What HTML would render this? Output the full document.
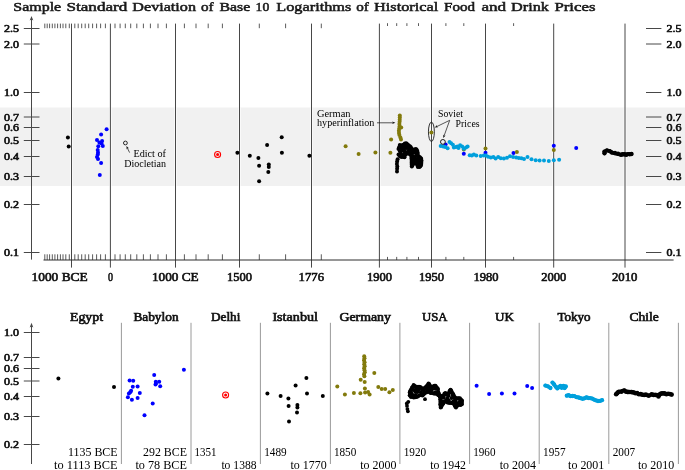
<!DOCTYPE html><html><head><meta charset="utf-8"><style>html,body{margin:0;padding:0;background:#fff;}svg{display:block;}text{filter:grayscale(1);}text{font-family:"Liberation Serif",serif;}.b{font-weight:normal;stroke:#111;stroke-width:0.62px;fill:#111;}</style></head><body>
<svg width="685" height="470" viewBox="0 0 685 470">
<rect x="0" y="107.5" width="685" height="78.5" fill="#f1f1f1"/>
<rect x="70.0" y="107.5" width="3.0" height="78.5" fill="#fff" opacity="0.6"/>
<rect x="108.9" y="107.5" width="3.0" height="78.5" fill="#fff" opacity="0.6"/>
<rect x="174.0" y="107.5" width="3.0" height="78.5" fill="#fff" opacity="0.6"/>
<rect x="238.0" y="107.5" width="3.0" height="78.5" fill="#fff" opacity="0.6"/>
<rect x="310.0" y="107.5" width="3.0" height="78.5" fill="#fff" opacity="0.6"/>
<rect x="377.9" y="107.5" width="3.0" height="78.5" fill="#fff" opacity="0.6"/>
<rect x="430.0" y="107.5" width="3.0" height="78.5" fill="#fff" opacity="0.6"/>
<rect x="484.0" y="107.5" width="3.0" height="78.5" fill="#fff" opacity="0.6"/>
<rect x="552.2" y="107.5" width="3.0" height="78.5" fill="#fff" opacity="0.6"/>
<rect x="623.5" y="107.5" width="3.0" height="78.5" fill="#fff" opacity="0.6"/>
<line x1="71.5" y1="23.6" x2="71.5" y2="267.6" stroke="#484848" stroke-width="1"/>
<line x1="110.4" y1="23.6" x2="110.4" y2="267.6" stroke="#484848" stroke-width="1"/>
<line x1="175.5" y1="23.6" x2="175.5" y2="267.6" stroke="#484848" stroke-width="1"/>
<line x1="239.5" y1="23.6" x2="239.5" y2="267.6" stroke="#484848" stroke-width="1"/>
<line x1="311.5" y1="23.6" x2="311.5" y2="267.6" stroke="#484848" stroke-width="1"/>
<line x1="379.4" y1="23.6" x2="379.4" y2="267.6" stroke="#484848" stroke-width="1"/>
<line x1="431.5" y1="23.6" x2="431.5" y2="267.6" stroke="#484848" stroke-width="1"/>
<line x1="485.5" y1="23.6" x2="485.5" y2="267.6" stroke="#484848" stroke-width="1"/>
<line x1="553.7" y1="23.6" x2="553.7" y2="267.6" stroke="#484848" stroke-width="1"/>
<line x1="625.0" y1="23.6" x2="625.0" y2="267.6" stroke="#484848" stroke-width="1"/>
<line x1="44.8" y1="23.6" x2="44.8" y2="28.2" stroke="#484848" stroke-width="0.9"/>
<line x1="44.8" y1="254.3" x2="44.8" y2="260" stroke="#484848" stroke-width="0.9"/>
<line x1="47.2" y1="23.6" x2="47.2" y2="28.2" stroke="#484848" stroke-width="0.9"/>
<line x1="47.2" y1="254.3" x2="47.2" y2="260" stroke="#484848" stroke-width="0.9"/>
<line x1="49.6" y1="23.6" x2="49.6" y2="28.2" stroke="#484848" stroke-width="0.9"/>
<line x1="49.6" y1="254.3" x2="49.6" y2="260" stroke="#484848" stroke-width="0.9"/>
<line x1="52.3" y1="23.6" x2="52.3" y2="28.2" stroke="#484848" stroke-width="0.9"/>
<line x1="52.3" y1="254.3" x2="52.3" y2="260" stroke="#484848" stroke-width="0.9"/>
<line x1="54.9" y1="23.6" x2="54.9" y2="28.2" stroke="#484848" stroke-width="0.9"/>
<line x1="54.9" y1="254.3" x2="54.9" y2="260" stroke="#484848" stroke-width="0.9"/>
<line x1="57.6" y1="23.6" x2="57.6" y2="28.2" stroke="#484848" stroke-width="0.9"/>
<line x1="57.6" y1="254.3" x2="57.6" y2="260" stroke="#484848" stroke-width="0.9"/>
<line x1="60.4" y1="23.6" x2="60.4" y2="28.2" stroke="#484848" stroke-width="0.9"/>
<line x1="60.4" y1="254.3" x2="60.4" y2="260" stroke="#484848" stroke-width="0.9"/>
<line x1="63" y1="23.6" x2="63" y2="28.2" stroke="#484848" stroke-width="0.9"/>
<line x1="63" y1="254.3" x2="63" y2="260" stroke="#484848" stroke-width="0.9"/>
<line x1="65.8" y1="23.6" x2="65.8" y2="28.2" stroke="#484848" stroke-width="0.9"/>
<line x1="65.8" y1="254.3" x2="65.8" y2="260" stroke="#484848" stroke-width="0.9"/>
<line x1="69.3" y1="23.6" x2="69.3" y2="28.2" stroke="#484848" stroke-width="0.9"/>
<line x1="69.3" y1="254.3" x2="69.3" y2="260" stroke="#484848" stroke-width="0.9"/>
<line x1="74.8" y1="23.6" x2="74.8" y2="28.2" stroke="#484848" stroke-width="0.9"/>
<line x1="74.8" y1="254.3" x2="74.8" y2="260" stroke="#484848" stroke-width="0.9"/>
<line x1="78.2" y1="23.6" x2="78.2" y2="28.2" stroke="#484848" stroke-width="0.9"/>
<line x1="78.2" y1="254.3" x2="78.2" y2="260" stroke="#484848" stroke-width="0.9"/>
<line x1="81.7" y1="23.6" x2="81.7" y2="28.2" stroke="#484848" stroke-width="0.9"/>
<line x1="81.7" y1="254.3" x2="81.7" y2="260" stroke="#484848" stroke-width="0.9"/>
<line x1="85.2" y1="23.6" x2="85.2" y2="28.2" stroke="#484848" stroke-width="0.9"/>
<line x1="85.2" y1="254.3" x2="85.2" y2="260" stroke="#484848" stroke-width="0.9"/>
<line x1="88.7" y1="23.6" x2="88.7" y2="28.2" stroke="#484848" stroke-width="0.9"/>
<line x1="88.7" y1="254.3" x2="88.7" y2="260" stroke="#484848" stroke-width="0.9"/>
<line x1="92.6" y1="23.6" x2="92.6" y2="28.2" stroke="#484848" stroke-width="0.9"/>
<line x1="92.6" y1="254.3" x2="92.6" y2="260" stroke="#484848" stroke-width="0.9"/>
<line x1="96.6" y1="23.6" x2="96.6" y2="28.2" stroke="#484848" stroke-width="0.9"/>
<line x1="96.6" y1="254.3" x2="96.6" y2="260" stroke="#484848" stroke-width="0.9"/>
<line x1="100.6" y1="23.6" x2="100.6" y2="28.2" stroke="#484848" stroke-width="0.9"/>
<line x1="100.6" y1="254.3" x2="100.6" y2="260" stroke="#484848" stroke-width="0.9"/>
<line x1="105.4" y1="23.6" x2="105.4" y2="28.2" stroke="#484848" stroke-width="0.9"/>
<line x1="105.4" y1="254.3" x2="105.4" y2="260" stroke="#484848" stroke-width="0.9"/>
<line x1="115" y1="23.6" x2="115" y2="28.2" stroke="#484848" stroke-width="0.9"/>
<line x1="115" y1="254.3" x2="115" y2="260" stroke="#484848" stroke-width="0.9"/>
<line x1="120.1" y1="23.6" x2="120.1" y2="28.2" stroke="#484848" stroke-width="0.9"/>
<line x1="120.1" y1="254.3" x2="120.1" y2="260" stroke="#484848" stroke-width="0.9"/>
<line x1="125.3" y1="23.6" x2="125.3" y2="28.2" stroke="#484848" stroke-width="0.9"/>
<line x1="125.3" y1="254.3" x2="125.3" y2="260" stroke="#484848" stroke-width="0.9"/>
<line x1="130.7" y1="23.6" x2="130.7" y2="28.2" stroke="#484848" stroke-width="0.9"/>
<line x1="130.7" y1="254.3" x2="130.7" y2="260" stroke="#484848" stroke-width="0.9"/>
<line x1="136.8" y1="23.6" x2="136.8" y2="28.2" stroke="#484848" stroke-width="0.9"/>
<line x1="136.8" y1="254.3" x2="136.8" y2="260" stroke="#484848" stroke-width="0.9"/>
<line x1="143.4" y1="23.6" x2="143.4" y2="28.2" stroke="#484848" stroke-width="0.9"/>
<line x1="143.4" y1="254.3" x2="143.4" y2="260" stroke="#484848" stroke-width="0.9"/>
<line x1="150.4" y1="23.6" x2="150.4" y2="28.2" stroke="#484848" stroke-width="0.9"/>
<line x1="150.4" y1="254.3" x2="150.4" y2="260" stroke="#484848" stroke-width="0.9"/>
<line x1="158" y1="23.6" x2="158" y2="28.2" stroke="#484848" stroke-width="0.9"/>
<line x1="158" y1="254.3" x2="158" y2="260" stroke="#484848" stroke-width="0.9"/>
<line x1="166.4" y1="23.6" x2="166.4" y2="28.2" stroke="#484848" stroke-width="0.9"/>
<line x1="166.4" y1="254.3" x2="166.4" y2="260" stroke="#484848" stroke-width="0.9"/>
<line x1="184.4" y1="23.6" x2="184.4" y2="28.2" stroke="#484848" stroke-width="0.9"/>
<line x1="184.4" y1="254.3" x2="184.4" y2="260" stroke="#484848" stroke-width="0.9"/>
<line x1="196" y1="23.6" x2="196" y2="28.2" stroke="#484848" stroke-width="0.9"/>
<line x1="196" y1="254.3" x2="196" y2="260" stroke="#484848" stroke-width="0.9"/>
<line x1="208.2" y1="23.6" x2="208.2" y2="28.2" stroke="#484848" stroke-width="0.9"/>
<line x1="208.2" y1="254.3" x2="208.2" y2="260" stroke="#484848" stroke-width="0.9"/>
<line x1="222.4" y1="23.6" x2="222.4" y2="28.2" stroke="#484848" stroke-width="0.9"/>
<line x1="222.4" y1="254.3" x2="222.4" y2="260" stroke="#484848" stroke-width="0.9"/>
<line x1="259.3" y1="23.6" x2="259.3" y2="28.2" stroke="#484848" stroke-width="0.9"/>
<line x1="259.3" y1="254.3" x2="259.3" y2="260" stroke="#484848" stroke-width="0.9"/>
<line x1="285.6" y1="23.6" x2="285.6" y2="28.2" stroke="#484848" stroke-width="0.9"/>
<line x1="285.6" y1="254.3" x2="285.6" y2="260" stroke="#484848" stroke-width="0.9"/>
<line x1="321.3" y1="23.6" x2="321.3" y2="28.2" stroke="#484848" stroke-width="0.9"/>
<line x1="321.3" y1="254.3" x2="321.3" y2="260" stroke="#484848" stroke-width="0.9"/>
<line x1="387.5" y1="23.2" x2="387.5" y2="26" stroke="#484848" stroke-width="0.9"/>
<line x1="387.5" y1="256.9" x2="387.5" y2="260" stroke="#484848" stroke-width="0.9"/>
<line x1="396.7" y1="23.2" x2="396.7" y2="26" stroke="#484848" stroke-width="0.9"/>
<line x1="396.7" y1="256.9" x2="396.7" y2="260" stroke="#484848" stroke-width="0.9"/>
<line x1="406.9" y1="23.2" x2="406.9" y2="26" stroke="#484848" stroke-width="0.9"/>
<line x1="406.9" y1="256.9" x2="406.9" y2="260" stroke="#484848" stroke-width="0.9"/>
<line x1="418.5" y1="23.2" x2="418.5" y2="26" stroke="#484848" stroke-width="0.9"/>
<line x1="418.5" y1="256.9" x2="418.5" y2="260" stroke="#484848" stroke-width="0.9"/>
<line x1="445.9" y1="23.2" x2="445.9" y2="26" stroke="#484848" stroke-width="0.9"/>
<line x1="445.9" y1="256.9" x2="445.9" y2="260" stroke="#484848" stroke-width="0.9"/>
<line x1="463.8" y1="23.2" x2="463.8" y2="26" stroke="#484848" stroke-width="0.9"/>
<line x1="463.8" y1="256.9" x2="463.8" y2="260" stroke="#484848" stroke-width="0.9"/>
<line x1="513.6" y1="23.2" x2="513.6" y2="26" stroke="#484848" stroke-width="0.9"/>
<line x1="513.6" y1="256.9" x2="513.6" y2="260" stroke="#484848" stroke-width="0.9"/>
<line x1="43.5" y1="260.0" x2="673.6" y2="260.0" stroke="#2e2e2e" stroke-width="1"/>
<line x1="31.5" y1="18.5" x2="31.5" y2="259.6" stroke="#484848" stroke-width="1"/>
<path d="M31.5 15.9 L29.7 20.6 L31.5 19.5 L33.3 20.6 Z" fill="#484848"/>
<line x1="23.8" y1="28.5" x2="39.5" y2="28.5" stroke="#484848" stroke-width="1"/>
<line x1="646" y1="28.5" x2="661.4" y2="28.5" stroke="#484848" stroke-width="1"/>
<text class="b" x="4" y="32.0" font-size="10.2" textLength="15" lengthAdjust="spacingAndGlyphs">2.5</text>
<text class="b" x="666.6" y="32.0" font-size="10.2" textLength="15" lengthAdjust="spacingAndGlyphs">2.5</text>
<line x1="23.8" y1="44.0" x2="39.5" y2="44.0" stroke="#484848" stroke-width="1"/>
<line x1="646" y1="44.0" x2="661.4" y2="44.0" stroke="#484848" stroke-width="1"/>
<text class="b" x="4" y="47.5" font-size="10.2" textLength="15" lengthAdjust="spacingAndGlyphs">2.0</text>
<text class="b" x="666.6" y="47.5" font-size="10.2" textLength="15" lengthAdjust="spacingAndGlyphs">2.0</text>
<line x1="23.8" y1="92.5" x2="39.5" y2="92.5" stroke="#484848" stroke-width="1"/>
<line x1="646" y1="92.5" x2="661.4" y2="92.5" stroke="#484848" stroke-width="1"/>
<text class="b" x="4" y="96.0" font-size="10.2" textLength="15" lengthAdjust="spacingAndGlyphs">1.0</text>
<text class="b" x="666.6" y="96.0" font-size="10.2" textLength="15" lengthAdjust="spacingAndGlyphs">1.0</text>
<line x1="23.8" y1="117.0" x2="39.5" y2="117.0" stroke="#484848" stroke-width="1"/>
<line x1="646" y1="117.0" x2="661.4" y2="117.0" stroke="#484848" stroke-width="1"/>
<text class="b" x="4" y="120.5" font-size="10.2" textLength="15" lengthAdjust="spacingAndGlyphs">0.7</text>
<text class="b" x="666.6" y="120.5" font-size="10.2" textLength="15" lengthAdjust="spacingAndGlyphs">0.7</text>
<line x1="23.8" y1="127.5" x2="39.5" y2="127.5" stroke="#484848" stroke-width="1"/>
<line x1="646" y1="127.5" x2="661.4" y2="127.5" stroke="#484848" stroke-width="1"/>
<text class="b" x="4" y="131.0" font-size="10.2" textLength="15" lengthAdjust="spacingAndGlyphs">0.6</text>
<text class="b" x="666.6" y="131.0" font-size="10.2" textLength="15" lengthAdjust="spacingAndGlyphs">0.6</text>
<line x1="23.8" y1="140.5" x2="39.5" y2="140.5" stroke="#484848" stroke-width="1"/>
<line x1="646" y1="140.5" x2="661.4" y2="140.5" stroke="#484848" stroke-width="1"/>
<text class="b" x="4" y="144.0" font-size="10.2" textLength="15" lengthAdjust="spacingAndGlyphs">0.5</text>
<text class="b" x="666.6" y="144.0" font-size="10.2" textLength="15" lengthAdjust="spacingAndGlyphs">0.5</text>
<line x1="23.8" y1="156.5" x2="39.5" y2="156.5" stroke="#484848" stroke-width="1"/>
<line x1="646" y1="156.5" x2="661.4" y2="156.5" stroke="#484848" stroke-width="1"/>
<text class="b" x="4" y="160.0" font-size="10.2" textLength="15" lengthAdjust="spacingAndGlyphs">0.4</text>
<text class="b" x="666.6" y="160.0" font-size="10.2" textLength="15" lengthAdjust="spacingAndGlyphs">0.4</text>
<line x1="23.8" y1="176.5" x2="39.5" y2="176.5" stroke="#484848" stroke-width="1"/>
<line x1="646" y1="176.5" x2="661.4" y2="176.5" stroke="#484848" stroke-width="1"/>
<text class="b" x="4" y="180.0" font-size="10.2" textLength="15" lengthAdjust="spacingAndGlyphs">0.3</text>
<text class="b" x="666.6" y="180.0" font-size="10.2" textLength="15" lengthAdjust="spacingAndGlyphs">0.3</text>
<line x1="23.8" y1="204.5" x2="39.5" y2="204.5" stroke="#484848" stroke-width="1"/>
<line x1="646" y1="204.5" x2="661.4" y2="204.5" stroke="#484848" stroke-width="1"/>
<text class="b" x="4" y="208.0" font-size="10.2" textLength="15" lengthAdjust="spacingAndGlyphs">0.2</text>
<text class="b" x="666.6" y="208.0" font-size="10.2" textLength="15" lengthAdjust="spacingAndGlyphs">0.2</text>
<line x1="23.8" y1="252.5" x2="39.5" y2="252.5" stroke="#484848" stroke-width="1"/>
<line x1="646" y1="252.5" x2="661.4" y2="252.5" stroke="#484848" stroke-width="1"/>
<text class="b" x="4" y="256.0" font-size="10.2" textLength="15" lengthAdjust="spacingAndGlyphs">0.1</text>
<text class="b" x="666.6" y="256.0" font-size="10.2" textLength="15" lengthAdjust="spacingAndGlyphs">0.1</text>
<text class="b" x="31.6" y="280.8" font-size="12.2" textLength="56.0" lengthAdjust="spacingAndGlyphs">1000 BCE</text>
<text class="b" x="108" y="280.8" font-size="12.2" textLength="5.0" lengthAdjust="spacingAndGlyphs">0</text>
<text class="b" x="152" y="280.8" font-size="12.2" textLength="46.6" lengthAdjust="spacingAndGlyphs">1000 CE</text>
<text class="b" x="227" y="280.8" font-size="12.2" textLength="25.0" lengthAdjust="spacingAndGlyphs">1500</text>
<text class="b" x="298.6" y="280.8" font-size="12.2" textLength="25.4" lengthAdjust="spacingAndGlyphs">1776</text>
<text class="b" x="367" y="280.8" font-size="12.2" textLength="25.0" lengthAdjust="spacingAndGlyphs">1900</text>
<text class="b" x="419" y="280.8" font-size="12.2" textLength="25.0" lengthAdjust="spacingAndGlyphs">1950</text>
<text class="b" x="473.4" y="280.8" font-size="12.2" textLength="25.0" lengthAdjust="spacingAndGlyphs">1980</text>
<text class="b" x="541.2" y="280.8" font-size="12.2" textLength="25.0" lengthAdjust="spacingAndGlyphs">2000</text>
<text class="b" x="612" y="280.8" font-size="12.2" textLength="25.4" lengthAdjust="spacingAndGlyphs">2010</text>
<text x="13.299999999999999" y="10.6" font-size="13.5" fill="#1a1a1a" stroke="#1a1a1a" stroke-width="0.55" textLength="47.9" lengthAdjust="spacingAndGlyphs">Sample</text>
<text x="66.5" y="10.6" font-size="13.5" fill="#1a1a1a" stroke="#1a1a1a" stroke-width="0.55" textLength="60.8" lengthAdjust="spacingAndGlyphs">Standard</text>
<text x="132.29999999999998" y="10.6" font-size="13.5" fill="#1a1a1a" stroke="#1a1a1a" stroke-width="0.55" textLength="63.7" lengthAdjust="spacingAndGlyphs">Deviation</text>
<text x="200.89999999999998" y="10.6" font-size="13.5" fill="#1a1a1a" stroke="#1a1a1a" stroke-width="0.55" textLength="12.6" lengthAdjust="spacingAndGlyphs">of</text>
<text x="219.5" y="10.6" font-size="13.5" fill="#1a1a1a" stroke="#1a1a1a" stroke-width="0.55" textLength="30.8" lengthAdjust="spacingAndGlyphs">Base</text>
<text x="255.6" y="10.6" font-size="13.5" fill="#1a1a1a" stroke="#1a1a1a" stroke-width="0.55" textLength="13.7" lengthAdjust="spacingAndGlyphs">10</text>
<text x="276.3" y="10.6" font-size="13.5" fill="#1a1a1a" stroke="#1a1a1a" stroke-width="0.55" textLength="75.0" lengthAdjust="spacingAndGlyphs">Logarithms</text>
<text x="356.2" y="10.6" font-size="13.5" fill="#1a1a1a" stroke="#1a1a1a" stroke-width="0.55" textLength="12.6" lengthAdjust="spacingAndGlyphs">of</text>
<text x="374.09999999999997" y="10.6" font-size="13.5" fill="#1a1a1a" stroke="#1a1a1a" stroke-width="0.55" textLength="64.1" lengthAdjust="spacingAndGlyphs">Historical</text>
<text x="444.09999999999997" y="10.6" font-size="13.5" fill="#1a1a1a" stroke="#1a1a1a" stroke-width="0.55" textLength="30.9" lengthAdjust="spacingAndGlyphs">Food</text>
<text x="481.4" y="10.6" font-size="13.5" fill="#1a1a1a" stroke="#1a1a1a" stroke-width="0.55" textLength="24.7" lengthAdjust="spacingAndGlyphs">and</text>
<text x="511.09999999999997" y="10.6" font-size="13.5" fill="#1a1a1a" stroke="#1a1a1a" stroke-width="0.55" textLength="37.8" lengthAdjust="spacingAndGlyphs">Drink</text>
<text x="554.4000000000001" y="10.6" font-size="13.5" fill="#1a1a1a" stroke="#1a1a1a" stroke-width="0.55" textLength="41.1" lengthAdjust="spacingAndGlyphs">Prices</text>
<circle cx="67.9" cy="137.6" r="2.0" fill="#000"/>
<circle cx="68.7" cy="146.6" r="2.0" fill="#000"/>
<circle cx="106.6" cy="129.2" r="2.0" fill="#0000ff"/>
<circle cx="101.1" cy="134.4" r="2.0" fill="#0000ff"/>
<circle cx="97" cy="140" r="2.0" fill="#0000ff"/>
<circle cx="102.1" cy="141.1" r="2.0" fill="#0000ff"/>
<circle cx="101.5" cy="143.6" r="2.0" fill="#0000ff"/>
<circle cx="102.8" cy="145.9" r="2.0" fill="#0000ff"/>
<circle cx="98.3" cy="146.2" r="2.0" fill="#0000ff"/>
<circle cx="97.7" cy="150" r="2.0" fill="#0000ff"/>
<circle cx="98" cy="152.6" r="2.0" fill="#0000ff"/>
<circle cx="97" cy="157" r="2.0" fill="#0000ff"/>
<circle cx="98" cy="159" r="2.0" fill="#0000ff"/>
<circle cx="101.1" cy="163" r="2.0" fill="#0000ff"/>
<circle cx="99.8" cy="174.9" r="2.0" fill="#0000ff"/>
<circle cx="99.4" cy="142.6" r="2.0" fill="#0000ff"/>
<circle cx="97.8" cy="154.6" r="2.0" fill="#0000ff"/>
<circle cx="125.4" cy="143" r="1.9" fill="none" stroke="#111" stroke-width="0.9"/>
<line x1="129.60" y1="152.60" x2="127.45" y2="148.16" stroke="#111" stroke-width="0.7"/>
<path d="M126.40 146.00 L128.92 148.33 L127.45 148.16 L126.67 149.42 Z" fill="#111"/>
<text x="133.4" y="156.5" font-size="10" textLength="32.6" lengthAdjust="spacingAndGlyphs">Edict of</text>
<text x="124.2" y="166.5" font-size="10" textLength="41.8" lengthAdjust="spacingAndGlyphs">Diocletian</text>
<circle cx="217.6" cy="154.5" r="3.0" fill="none" stroke="#ff0000" stroke-width="1.1"/>
<circle cx="217.6" cy="154.5" r="1.5" fill="#ff0000"/>
<circle cx="237.4" cy="152.8" r="2.0" fill="#000"/>
<circle cx="249.8" cy="155.7" r="2.0" fill="#000"/>
<circle cx="258.4" cy="158" r="2.0" fill="#000"/>
<circle cx="267.1" cy="145.1" r="2.0" fill="#000"/>
<circle cx="281.7" cy="137.2" r="2.0" fill="#000"/>
<circle cx="281.9" cy="152.8" r="2.0" fill="#000"/>
<circle cx="259.1" cy="165.8" r="2.0" fill="#000"/>
<circle cx="268.8" cy="164.4" r="2.0" fill="#000"/>
<circle cx="268.8" cy="166.9" r="2.0" fill="#000"/>
<circle cx="268.3" cy="172" r="2.0" fill="#000"/>
<circle cx="259.1" cy="181.2" r="2.0" fill="#000"/>
<circle cx="309.4" cy="155.7" r="2.0" fill="#000"/>
<circle cx="345.6" cy="146.2" r="2.0" fill="#827a0c"/>
<circle cx="358.6" cy="154" r="2.0" fill="#827a0c"/>
<circle cx="375.4" cy="152.4" r="2.0" fill="#827a0c"/>
<circle cx="390.4" cy="152.8" r="2.0" fill="#827a0c"/>
<circle cx="391.1" cy="139.6" r="2.0" fill="#827a0c"/>
<circle cx="399.8" cy="115.6" r="2.0" fill="#827a0c"/>
<circle cx="399.8" cy="117.6" r="2.0" fill="#827a0c"/>
<circle cx="399.7" cy="119.7" r="2.0" fill="#827a0c"/>
<circle cx="399.6" cy="121.8" r="2.0" fill="#827a0c"/>
<circle cx="399.4" cy="124" r="2.0" fill="#827a0c"/>
<circle cx="399.6" cy="126.2" r="2.0" fill="#827a0c"/>
<circle cx="401.2" cy="127.4" r="2.0" fill="#827a0c"/>
<circle cx="399.2" cy="128.5" r="2.0" fill="#827a0c"/>
<circle cx="398.9" cy="130.7" r="2.0" fill="#827a0c"/>
<circle cx="399" cy="132.9" r="2.0" fill="#827a0c"/>
<circle cx="399.4" cy="135.1" r="2.0" fill="#827a0c"/>
<circle cx="400.4" cy="137.4" r="2.0" fill="#827a0c"/>
<circle cx="401" cy="139.5" r="2.0" fill="#827a0c"/>
<text x="317" y="117" font-size="10" textLength="33.5" lengthAdjust="spacingAndGlyphs">German</text>
<text x="317" y="125.6" font-size="10" textLength="57.4" lengthAdjust="spacingAndGlyphs">hyperinflation</text>
<line x1="377.00" y1="122.80" x2="393.00" y2="122.80" stroke="#111" stroke-width="0.7"/>
<path d="M395.40 122.80 L392.20 124.05 L393.00 122.80 L392.20 121.55 Z" fill="#111"/>
<circle cx="397.6" cy="159.3" r="2.0" fill="#000"/>
<circle cx="397.1" cy="161.6" r="2.0" fill="#000"/>
<circle cx="396.9" cy="164.0" r="2.0" fill="#000"/>
<circle cx="397.3" cy="166.4" r="2.0" fill="#000"/>
<circle cx="397.1" cy="168.8" r="2.0" fill="#000"/>
<circle cx="397.0" cy="171.4" r="2.0" fill="#000"/>
<circle cx="405.98" cy="143.41" r="2.0" fill="#000"/>
<circle cx="399.96" cy="145.66" r="2.0" fill="#000"/>
<circle cx="403.22" cy="145.17" r="2.0" fill="#000"/>
<circle cx="405.75" cy="145.51" r="2.0" fill="#000"/>
<circle cx="407.45" cy="145.26" r="2.0" fill="#000"/>
<circle cx="401.45" cy="148.10" r="2.0" fill="#000"/>
<circle cx="403.64" cy="148.32" r="2.0" fill="#000"/>
<circle cx="406.53" cy="147.92" r="2.0" fill="#000"/>
<circle cx="409.71" cy="148.48" r="2.0" fill="#000"/>
<circle cx="399.74" cy="150.96" r="2.0" fill="#000"/>
<circle cx="402.06" cy="150.58" r="2.0" fill="#000"/>
<circle cx="404.60" cy="150.84" r="2.0" fill="#000"/>
<circle cx="408.32" cy="150.70" r="2.0" fill="#000"/>
<circle cx="411.18" cy="150.34" r="2.0" fill="#000"/>
<circle cx="416.16" cy="150.54" r="2.0" fill="#000"/>
<circle cx="400.58" cy="153.28" r="2.0" fill="#000"/>
<circle cx="404.11" cy="153.69" r="2.0" fill="#000"/>
<circle cx="407.05" cy="152.70" r="2.0" fill="#000"/>
<circle cx="409.14" cy="153.24" r="2.0" fill="#000"/>
<circle cx="411.33" cy="152.95" r="2.0" fill="#000"/>
<circle cx="414.24" cy="152.46" r="2.0" fill="#000"/>
<circle cx="416.78" cy="153.38" r="2.0" fill="#000"/>
<circle cx="401.96" cy="155.33" r="2.0" fill="#000"/>
<circle cx="413.15" cy="155.94" r="2.0" fill="#000"/>
<circle cx="416.69" cy="154.91" r="2.0" fill="#000"/>
<circle cx="412.02" cy="157.96" r="2.0" fill="#000"/>
<circle cx="414.95" cy="157.18" r="2.0" fill="#000"/>
<circle cx="417.96" cy="158.19" r="2.0" fill="#000"/>
<circle cx="420.62" cy="158.22" r="2.0" fill="#000"/>
<circle cx="412.65" cy="159.71" r="2.0" fill="#000"/>
<circle cx="415.49" cy="160.01" r="2.0" fill="#000"/>
<circle cx="418.09" cy="160.72" r="2.0" fill="#000"/>
<circle cx="414.48" cy="162.27" r="2.0" fill="#000"/>
<circle cx="417.86" cy="162.13" r="2.0" fill="#000"/>
<circle cx="419.43" cy="163.23" r="2.0" fill="#000"/>
<circle cx="418.51" cy="164.61" r="2.0" fill="#000"/>
<circle cx="398.5" cy="149.0" r="2.0" fill="#000"/>
<circle cx="399.8" cy="145.1" r="2.0" fill="#000"/>
<circle cx="401.3" cy="145.5" r="2.0" fill="#000"/>
<circle cx="402.9" cy="145.1" r="2.0" fill="#000"/>
<circle cx="404.9" cy="143.4" r="2.0" fill="#000"/>
<circle cx="406.6" cy="143.4" r="2.0" fill="#000"/>
<circle cx="408.2" cy="145.1" r="2.0" fill="#000"/>
<circle cx="409.8" cy="146.3" r="2.0" fill="#000"/>
<circle cx="411.4" cy="148.3" r="2.0" fill="#000"/>
<circle cx="413.4" cy="151.1" r="2.0" fill="#000"/>
<circle cx="414.6" cy="149.5" r="2.0" fill="#000"/>
<circle cx="415.9" cy="149.1" r="2.0" fill="#000"/>
<circle cx="417.3" cy="151.1" r="2.0" fill="#000"/>
<circle cx="417.8" cy="155.2" r="2.0" fill="#000"/>
<circle cx="419.9" cy="157.2" r="2.0" fill="#000"/>
<circle cx="421.1" cy="158.4" r="2.0" fill="#000"/>
<circle cx="421.4" cy="160.5" r="2.0" fill="#000"/>
<circle cx="398.5" cy="154.4" r="2.0" fill="#000"/>
<circle cx="400.1" cy="156.4" r="2.0" fill="#000"/>
<circle cx="403.3" cy="156.8" r="2.0" fill="#000"/>
<circle cx="404.4" cy="155.5" r="2.0" fill="#000"/>
<circle cx="405.8" cy="153.7" r="2.0" fill="#000"/>
<circle cx="409.3" cy="153.7" r="2.0" fill="#000"/>
<circle cx="411.4" cy="155.5" r="2.0" fill="#000"/>
<circle cx="411.5" cy="158.0" r="2.0" fill="#000"/>
<circle cx="411.8" cy="166.5" r="2.0" fill="#000"/>
<circle cx="413.0" cy="164.1" r="2.0" fill="#000"/>
<circle cx="414.2" cy="162.9" r="2.0" fill="#000"/>
<circle cx="416.7" cy="163.3" r="2.0" fill="#000"/>
<circle cx="417.9" cy="166.9" r="2.0" fill="#000"/>
<circle cx="419.5" cy="166.9" r="2.0" fill="#000"/>
<circle cx="421.1" cy="164.9" r="2.0" fill="#000"/>
<circle cx="421.4" cy="162.0" r="2.0" fill="#000"/>
<circle cx="398.93" cy="148.01" r="2.0" fill="#000"/>
<circle cx="399.37" cy="146.88" r="2.0" fill="#000"/>
<circle cx="403.90" cy="144.60" r="2.0" fill="#000"/>
<circle cx="405.75" cy="143.71" r="2.0" fill="#000"/>
<circle cx="407.40" cy="144.57" r="2.0" fill="#000"/>
<circle cx="409.00" cy="145.94" r="2.0" fill="#000"/>
<circle cx="410.60" cy="147.03" r="2.0" fill="#000"/>
<circle cx="412.07" cy="149.25" r="2.0" fill="#000"/>
<circle cx="412.73" cy="150.02" r="2.0" fill="#000"/>
<circle cx="414.00" cy="149.83" r="2.0" fill="#000"/>
<circle cx="416.60" cy="149.63" r="2.0" fill="#000"/>
<circle cx="417.47" cy="152.25" r="2.0" fill="#000"/>
<circle cx="417.63" cy="153.59" r="2.0" fill="#000"/>
<circle cx="418.85" cy="156.39" r="2.0" fill="#000"/>
<circle cx="421.25" cy="159.91" r="2.0" fill="#000"/>
<circle cx="399.30" cy="155.35" r="2.0" fill="#000"/>
<circle cx="401.70" cy="157.04" r="2.0" fill="#000"/>
<circle cx="403.85" cy="156.64" r="2.0" fill="#000"/>
<circle cx="405.10" cy="155.06" r="2.0" fill="#000"/>
<circle cx="406.97" cy="153.56" r="2.0" fill="#000"/>
<circle cx="408.13" cy="153.42" r="2.0" fill="#000"/>
<circle cx="410.35" cy="154.33" r="2.0" fill="#000"/>
<circle cx="411.45" cy="156.45" r="2.0" fill="#000"/>
<circle cx="411.55" cy="159.12" r="2.0" fill="#000"/>
<circle cx="411.60" cy="160.96" r="2.0" fill="#000"/>
<circle cx="411.65" cy="162.65" r="2.0" fill="#000"/>
<circle cx="411.70" cy="164.01" r="2.0" fill="#000"/>
<circle cx="411.75" cy="165.06" r="2.0" fill="#000"/>
<circle cx="412.40" cy="165.45" r="2.0" fill="#000"/>
<circle cx="415.45" cy="163.40" r="2.0" fill="#000"/>
<circle cx="417.10" cy="164.08" r="2.0" fill="#000"/>
<circle cx="417.50" cy="165.86" r="2.0" fill="#000"/>
<circle cx="420.30" cy="166.31" r="2.0" fill="#000"/>
<circle cx="421.25" cy="163.73" r="2.0" fill="#000"/>
<circle cx="404.5" cy="157.3" r="2.0" fill="#000"/>
<ellipse cx="431.4" cy="131.8" rx="2.95" ry="9.7" fill="none" stroke="#111" stroke-width="0.85"/>
<text x="438" y="117" font-size="10" textLength="25" lengthAdjust="spacingAndGlyphs">Soviet</text>
<text x="455.6" y="127" font-size="10" textLength="24" lengthAdjust="spacingAndGlyphs">Prices</text>
<line x1="449.70" y1="120.30" x2="436.86" y2="126.55" stroke="#111" stroke-width="0.7"/>
<path d="M434.70 127.60 L437.03 125.08 L436.86 126.55 L438.12 127.32 Z" fill="#111"/>
<line x1="449.70" y1="120.30" x2="444.12" y2="135.74" stroke="#111" stroke-width="0.7"/>
<path d="M443.30 138.00 L443.21 134.57 L444.12 135.74 L445.56 135.42 Z" fill="#111"/>
<circle cx="445.6" cy="144.6" r="2.0" fill="#0000ff"/>
<circle cx="463.8" cy="149.6" r="2.0" fill="#827a0c"/>
<circle cx="463.8" cy="153.8" r="2.0" fill="#0000ff"/>
<circle cx="485.5" cy="148.6" r="2.0" fill="#827a0c"/>
<circle cx="485.5" cy="152.8" r="2.0" fill="#0000ff"/>
<circle cx="513.5" cy="153" r="2.0" fill="#0000ff"/>
<circle cx="516.9" cy="151.9" r="2.0" fill="#827a0c"/>
<circle cx="553.8" cy="145.8" r="2.0" fill="#0000ff"/>
<circle cx="553.8" cy="150" r="2.0" fill="#827a0c"/>
<circle cx="576.2" cy="148" r="2.0" fill="#0000ff"/>
<circle cx="440.7" cy="145.9" r="2.0" fill="#00a0dc"/>
<circle cx="443.1" cy="146.4" r="2.0" fill="#00a0dc"/>
<circle cx="445.2" cy="146.9" r="2.0" fill="#00a0dc"/>
<circle cx="447.6" cy="148.2" r="2.0" fill="#00a0dc"/>
<circle cx="449.5" cy="142.1" r="2.0" fill="#00a0dc"/>
<circle cx="451.1" cy="143.2" r="2.0" fill="#00a0dc"/>
<circle cx="452.9" cy="144.8" r="2.0" fill="#00a0dc"/>
<circle cx="453.9" cy="147.4" r="2.0" fill="#00a0dc"/>
<circle cx="455.9" cy="146.9" r="2.0" fill="#00a0dc"/>
<circle cx="457.4" cy="146.4" r="2.0" fill="#00a0dc"/>
<circle cx="458.5" cy="148" r="2.0" fill="#00a0dc"/>
<circle cx="460.1" cy="145.3" r="2.0" fill="#00a0dc"/>
<circle cx="462.2" cy="146.4" r="2.0" fill="#00a0dc"/>
<circle cx="463.8" cy="148.8" r="2.0" fill="#00a0dc"/>
<circle cx="466" cy="147.4" r="2.0" fill="#00a0dc"/>
<circle cx="467.6" cy="146.4" r="2.0" fill="#00a0dc"/>
<circle cx="469.7" cy="155.2" r="2.0" fill="#00a0dc"/>
<circle cx="471.8" cy="155.4" r="2.0" fill="#00a0dc"/>
<circle cx="473.9" cy="154.4" r="2.0" fill="#00a0dc"/>
<circle cx="476.3" cy="155.4" r="2.0" fill="#00a0dc"/>
<circle cx="480.7" cy="156.1" r="2.0" fill="#00a0dc"/>
<circle cx="483.8" cy="155.4" r="2.0" fill="#00a0dc"/>
<circle cx="486" cy="155.4" r="2.0" fill="#00a0dc"/>
<circle cx="488.1" cy="156.7" r="2.0" fill="#00a0dc"/>
<circle cx="490.8" cy="157.6" r="2.0" fill="#00a0dc"/>
<circle cx="493.4" cy="157.1" r="2.0" fill="#00a0dc"/>
<circle cx="495.6" cy="158.5" r="2.0" fill="#00a0dc"/>
<circle cx="498.2" cy="157.1" r="2.0" fill="#00a0dc"/>
<circle cx="500.8" cy="158.2" r="2.0" fill="#00a0dc"/>
<circle cx="503.9" cy="158.5" r="2.0" fill="#00a0dc"/>
<circle cx="507" cy="157.8" r="2.0" fill="#00a0dc"/>
<circle cx="510" cy="156.3" r="2.0" fill="#00a0dc"/>
<circle cx="513.1" cy="157.1" r="2.0" fill="#00a0dc"/>
<circle cx="516.2" cy="157.6" r="2.0" fill="#00a0dc"/>
<circle cx="518.8" cy="158" r="2.0" fill="#00a0dc"/>
<circle cx="521.4" cy="158.2" r="2.0" fill="#00a0dc"/>
<circle cx="524" cy="158.9" r="2.0" fill="#00a0dc"/>
<circle cx="527.5" cy="157.1" r="2.0" fill="#00a0dc"/>
<circle cx="531.5" cy="159.3" r="2.0" fill="#00a0dc"/>
<circle cx="535.7" cy="160.2" r="2.0" fill="#00a0dc"/>
<circle cx="539.6" cy="160.6" r="2.0" fill="#00a0dc"/>
<circle cx="544" cy="160.6" r="2.0" fill="#00a0dc"/>
<circle cx="548.8" cy="161.1" r="2.0" fill="#00a0dc"/>
<circle cx="553.8" cy="160.2" r="2.0" fill="#00a0dc"/>
<circle cx="559.1" cy="159.8" r="2.0" fill="#00a0dc"/>
<circle cx="442.9" cy="141.9" r="2.4" fill="#f1f1f1" stroke="#111" stroke-width="0.95"/>
<circle cx="431.4" cy="132.6" r="2.0" fill="#827a0c"/>
<path d="M604.5 153.5 L604.5 151.5 L607.0 150.5 L609.5 151.0 L612.0 152.5 L615.0 153.5 L618.0 154.2 L621.0 154.5 L624.5 154.5 L628.0 154.1 L631.5 154.0" fill="none" stroke="#000" stroke-width="3.8" stroke-linecap="round" stroke-linejoin="round"/>
<circle cx="604.50" cy="153.19" r="2.15" fill="#000"/>
<circle cx="604.50" cy="151.55" r="2.15" fill="#000"/>
<circle cx="607.00" cy="150.34" r="2.15" fill="#000"/>
<circle cx="609.50" cy="151.12" r="2.15" fill="#000"/>
<circle cx="612.00" cy="152.65" r="2.15" fill="#000"/>
<circle cx="615.00" cy="152.98" r="2.15" fill="#000"/>
<circle cx="618.00" cy="153.62" r="2.15" fill="#000"/>
<circle cx="621.00" cy="154.90" r="2.15" fill="#000"/>
<circle cx="622.75" cy="154.21" r="2.15" fill="#000"/>
<circle cx="624.50" cy="154.18" r="2.15" fill="#000"/>
<circle cx="626.25" cy="154.89" r="2.15" fill="#000"/>
<circle cx="628.00" cy="154.06" r="2.15" fill="#000"/>
<circle cx="629.75" cy="154.45" r="2.15" fill="#000"/>
<circle cx="631.50" cy="154.00" r="2.15" fill="#000"/>
<line x1="31.5" y1="325" x2="31.5" y2="464" stroke="#484848" stroke-width="1"/>
<path d="M31.5 322.8 L29.7 327.5 L31.5 326.4 L33.3 327.5 Z" fill="#484848"/>
<line x1="23.8" y1="332.5" x2="39.5" y2="332.5" stroke="#484848" stroke-width="1"/>
<text class="b" x="4" y="336.0" font-size="10.2" textLength="15" lengthAdjust="spacingAndGlyphs">1.0</text>
<line x1="23.8" y1="357.5" x2="39.5" y2="357.5" stroke="#484848" stroke-width="1"/>
<text class="b" x="4" y="361.0" font-size="10.2" textLength="15" lengthAdjust="spacingAndGlyphs">0.7</text>
<line x1="23.8" y1="368.5" x2="39.5" y2="368.5" stroke="#484848" stroke-width="1"/>
<text class="b" x="4" y="372.0" font-size="10.2" textLength="15" lengthAdjust="spacingAndGlyphs">0.6</text>
<line x1="23.8" y1="381.0" x2="39.5" y2="381.0" stroke="#484848" stroke-width="1"/>
<text class="b" x="4" y="384.5" font-size="10.2" textLength="15" lengthAdjust="spacingAndGlyphs">0.5</text>
<line x1="23.8" y1="396.5" x2="39.5" y2="396.5" stroke="#484848" stroke-width="1"/>
<text class="b" x="4" y="400.0" font-size="10.2" textLength="15" lengthAdjust="spacingAndGlyphs">0.4</text>
<line x1="23.8" y1="416.5" x2="39.5" y2="416.5" stroke="#484848" stroke-width="1"/>
<text class="b" x="4" y="420.0" font-size="10.2" textLength="15" lengthAdjust="spacingAndGlyphs">0.3</text>
<line x1="23.8" y1="444.5" x2="39.5" y2="444.5" stroke="#484848" stroke-width="1"/>
<text class="b" x="4" y="448.0" font-size="10.2" textLength="15" lengthAdjust="spacingAndGlyphs">0.2</text>
<line x1="121.4" y1="322.8" x2="121.4" y2="464" stroke="#9a9a9a" stroke-width="1"/>
<line x1="191" y1="322.8" x2="191" y2="464" stroke="#9a9a9a" stroke-width="1"/>
<line x1="260.4" y1="322.8" x2="260.4" y2="464" stroke="#9a9a9a" stroke-width="1"/>
<line x1="330.4" y1="322.8" x2="330.4" y2="464" stroke="#9a9a9a" stroke-width="1"/>
<line x1="399.9" y1="322.8" x2="399.9" y2="464" stroke="#9a9a9a" stroke-width="1"/>
<line x1="469.6" y1="322.8" x2="469.6" y2="464" stroke="#9a9a9a" stroke-width="1"/>
<line x1="539.2" y1="322.8" x2="539.2" y2="464" stroke="#9a9a9a" stroke-width="1"/>
<line x1="608.8" y1="322.8" x2="608.8" y2="464" stroke="#9a9a9a" stroke-width="1"/>
<line x1="678.4" y1="322.8" x2="678.4" y2="464" stroke="#9a9a9a" stroke-width="1"/>
<text class="b" x="70" y="321" font-size="12.0" textLength="33.0" lengthAdjust="spacingAndGlyphs">Egypt</text>
<text class="b" x="133.4" y="321" font-size="12.0" textLength="45.2" lengthAdjust="spacingAndGlyphs">Babylon</text>
<text class="b" x="211" y="321" font-size="12.0" textLength="29.4" lengthAdjust="spacingAndGlyphs">Delhi</text>
<text class="b" x="272.4" y="321" font-size="12.0" textLength="45.6" lengthAdjust="spacingAndGlyphs">Istanbul</text>
<text class="b" x="339.4" y="321" font-size="12.0" textLength="51.6" lengthAdjust="spacingAndGlyphs">Germany</text>
<text class="b" x="422" y="321" font-size="12.0" textLength="25.4" lengthAdjust="spacingAndGlyphs">USA</text>
<text class="b" x="495" y="321" font-size="12.0" textLength="19.0" lengthAdjust="spacingAndGlyphs">UK</text>
<text class="b" x="557.4" y="321" font-size="12.0" textLength="33.2" lengthAdjust="spacingAndGlyphs">Tokyo</text>
<text class="b" x="629.4" y="321" font-size="12.0" textLength="29.3" lengthAdjust="spacingAndGlyphs">Chile</text>
<text x="68" y="455.8" font-size="12.4" textLength="49.6" lengthAdjust="spacingAndGlyphs">1135 BCE</text>
<text x="54" y="468.5" font-size="12.4" textLength="63.6" lengthAdjust="spacingAndGlyphs">to 1113 BCE</text>
<text x="143" y="455.8" font-size="12.4" textLength="44.0" lengthAdjust="spacingAndGlyphs">292 BCE</text>
<text x="135.4" y="468.5" font-size="12.4" textLength="51.6" lengthAdjust="spacingAndGlyphs">to 78 BCE</text>
<text x="194.6" y="455.8" font-size="12.4" textLength="22.0" lengthAdjust="spacingAndGlyphs">1351</text>
<text x="221.4" y="468.5" font-size="12.4" textLength="35.2" lengthAdjust="spacingAndGlyphs">to 1388</text>
<text x="264.2" y="455.8" font-size="12.4" textLength="22.5" lengthAdjust="spacingAndGlyphs">1489</text>
<text x="290.5" y="468.5" font-size="12.4" textLength="36.3" lengthAdjust="spacingAndGlyphs">to 1770</text>
<text x="333.9" y="455.8" font-size="12.4" textLength="22.4" lengthAdjust="spacingAndGlyphs">1850</text>
<text x="360.2" y="468.5" font-size="12.4" textLength="36.2" lengthAdjust="spacingAndGlyphs">to 2000</text>
<text x="403.7" y="455.8" font-size="12.4" textLength="22.5" lengthAdjust="spacingAndGlyphs">1920</text>
<text x="430.2" y="468.5" font-size="12.4" textLength="35.8" lengthAdjust="spacingAndGlyphs">to 1942</text>
<text x="473.2" y="455.8" font-size="12.4" textLength="22.3" lengthAdjust="spacingAndGlyphs">1960</text>
<text x="499.7" y="468.5" font-size="12.4" textLength="36.2" lengthAdjust="spacingAndGlyphs">to 2004</text>
<text x="543" y="455.8" font-size="12.4" textLength="22.5" lengthAdjust="spacingAndGlyphs">1957</text>
<text x="568.1" y="468.5" font-size="12.4" textLength="36.2" lengthAdjust="spacingAndGlyphs">to 2001</text>
<text x="612.7" y="455.8" font-size="12.4" textLength="22.5" lengthAdjust="spacingAndGlyphs">2007</text>
<text x="638" y="468.5" font-size="12.4" textLength="36.2" lengthAdjust="spacingAndGlyphs">to 2010</text>
<circle cx="58.4" cy="378.4" r="2.0" fill="#000"/>
<circle cx="114" cy="387" r="2.0" fill="#000"/>
<circle cx="183.9" cy="369.8" r="2.0" fill="#0000ff"/>
<circle cx="154.2" cy="374.9" r="2.0" fill="#0000ff"/>
<circle cx="129.6" cy="380.4" r="2.0" fill="#0000ff"/>
<circle cx="133.2" cy="380.8" r="2.0" fill="#0000ff"/>
<circle cx="155.8" cy="381.7" r="2.0" fill="#0000ff"/>
<circle cx="159.2" cy="381.7" r="2.0" fill="#0000ff"/>
<circle cx="156" cy="383.4" r="2.0" fill="#0000ff"/>
<circle cx="155.5" cy="384.5" r="2.0" fill="#0000ff"/>
<circle cx="160.2" cy="386.2" r="2.0" fill="#0000ff"/>
<circle cx="132.8" cy="386.8" r="2.0" fill="#0000ff"/>
<circle cx="137.6" cy="386.6" r="2.0" fill="#0000ff"/>
<circle cx="131.1" cy="390.7" r="2.0" fill="#0000ff"/>
<circle cx="130.2" cy="392.2" r="2.0" fill="#0000ff"/>
<circle cx="128.9" cy="393.5" r="2.0" fill="#0000ff"/>
<circle cx="139.8" cy="393" r="2.0" fill="#0000ff"/>
<circle cx="127.9" cy="397.3" r="2.0" fill="#0000ff"/>
<circle cx="131.9" cy="399.8" r="2.0" fill="#0000ff"/>
<circle cx="137.6" cy="398.1" r="2.0" fill="#0000ff"/>
<circle cx="152.7" cy="403.4" r="2.0" fill="#0000ff"/>
<circle cx="144.5" cy="415.3" r="2.0" fill="#0000ff"/>
<circle cx="225.6" cy="395" r="3.0" fill="none" stroke="#ff0000" stroke-width="1.1"/>
<circle cx="225.6" cy="395" r="1.5" fill="#ff0000"/>
<circle cx="267.4" cy="393.4" r="2.0" fill="#000"/>
<circle cx="280.6" cy="396" r="2.0" fill="#000"/>
<circle cx="288.4" cy="398.6" r="2.0" fill="#000"/>
<circle cx="295.6" cy="385.4" r="2.0" fill="#000"/>
<circle cx="306.4" cy="378" r="2.0" fill="#000"/>
<circle cx="307" cy="393.4" r="2.0" fill="#000"/>
<circle cx="288.6" cy="406" r="2.0" fill="#000"/>
<circle cx="297.4" cy="405" r="2.0" fill="#000"/>
<circle cx="297.4" cy="407.4" r="2.0" fill="#000"/>
<circle cx="297" cy="412.4" r="2.0" fill="#000"/>
<circle cx="289" cy="421.6" r="2.0" fill="#000"/>
<circle cx="322.8" cy="396" r="2.0" fill="#000"/>
<circle cx="364.2" cy="356.2" r="2.0" fill="#827a0c"/>
<circle cx="364.5" cy="358.2" r="2.0" fill="#827a0c"/>
<circle cx="364.0" cy="360.2" r="2.0" fill="#827a0c"/>
<circle cx="364.59999999999997" cy="362.2" r="2.0" fill="#827a0c"/>
<circle cx="364.2" cy="364.2" r="2.0" fill="#827a0c"/>
<circle cx="364.7" cy="366.2" r="2.0" fill="#827a0c"/>
<circle cx="364.09999999999997" cy="368.2" r="2.0" fill="#827a0c"/>
<circle cx="364.5" cy="370.2" r="2.0" fill="#827a0c"/>
<circle cx="364.8" cy="372.2" r="2.0" fill="#827a0c"/>
<circle cx="364.0" cy="374.2" r="2.0" fill="#827a0c"/>
<circle cx="364.4" cy="376.3" r="2.0" fill="#827a0c"/>
<circle cx="360.7" cy="379.7" r="2.0" fill="#827a0c"/>
<circle cx="364.7" cy="382" r="2.0" fill="#827a0c"/>
<circle cx="374.3" cy="373.1" r="2.0" fill="#827a0c"/>
<circle cx="337.3" cy="386.5" r="2.0" fill="#827a0c"/>
<circle cx="344.9" cy="394.6" r="2.0" fill="#827a0c"/>
<circle cx="353.9" cy="392.9" r="2.0" fill="#827a0c"/>
<circle cx="360.4" cy="393.3" r="2.0" fill="#827a0c"/>
<circle cx="364.9" cy="388.4" r="2.0" fill="#827a0c"/>
<circle cx="365.1" cy="392.5" r="2.0" fill="#827a0c"/>
<circle cx="368.1" cy="392" r="2.0" fill="#827a0c"/>
<circle cx="369.6" cy="394.6" r="2.0" fill="#827a0c"/>
<circle cx="378.3" cy="387.1" r="2.0" fill="#827a0c"/>
<circle cx="381.7" cy="389.1" r="2.0" fill="#827a0c"/>
<circle cx="385.2" cy="389.1" r="2.0" fill="#827a0c"/>
<circle cx="389.4" cy="392.3" r="2.0" fill="#827a0c"/>
<circle cx="392.8" cy="390" r="2.0" fill="#827a0c"/>
<circle cx="408.3" cy="401.8" r="1.9" fill="#000"/>
<circle cx="406.8" cy="403.5" r="1.9" fill="#000"/>
<circle cx="407" cy="405.9" r="1.9" fill="#000"/>
<circle cx="407.4" cy="409.1" r="1.9" fill="#000"/>
<circle cx="407.9" cy="411.3" r="1.9" fill="#000"/>
<circle cx="414.03" cy="386.09" r="2.0" fill="#000"/>
<circle cx="428.26" cy="386.78" r="2.0" fill="#000"/>
<circle cx="434.49" cy="387.03" r="2.0" fill="#000"/>
<circle cx="413.48" cy="390.02" r="2.0" fill="#000"/>
<circle cx="416.26" cy="389.63" r="2.0" fill="#000"/>
<circle cx="418.98" cy="389.68" r="2.0" fill="#000"/>
<circle cx="423.11" cy="390.09" r="2.0" fill="#000"/>
<circle cx="426.65" cy="389.10" r="2.0" fill="#000"/>
<circle cx="429.34" cy="389.64" r="2.0" fill="#000"/>
<circle cx="432.13" cy="389.35" r="2.0" fill="#000"/>
<circle cx="435.64" cy="388.86" r="2.0" fill="#000"/>
<circle cx="411.15" cy="392.84" r="2.0" fill="#000"/>
<circle cx="415.29" cy="391.81" r="2.0" fill="#000"/>
<circle cx="417.50" cy="391.92" r="2.0" fill="#000"/>
<circle cx="420.88" cy="392.28" r="2.0" fill="#000"/>
<circle cx="424.67" cy="391.97" r="2.0" fill="#000"/>
<circle cx="430.97" cy="392.39" r="2.0" fill="#000"/>
<circle cx="435.08" cy="392.57" r="2.0" fill="#000"/>
<circle cx="437.77" cy="392.46" r="2.0" fill="#000"/>
<circle cx="450.80" cy="392.16" r="2.0" fill="#000"/>
<circle cx="412.30" cy="394.71" r="2.0" fill="#000"/>
<circle cx="415.74" cy="395.01" r="2.0" fill="#000"/>
<circle cx="423.06" cy="394.71" r="2.0" fill="#000"/>
<circle cx="438.82" cy="394.64" r="2.0" fill="#000"/>
<circle cx="446.46" cy="394.73" r="2.0" fill="#000"/>
<circle cx="448.63" cy="395.83" r="2.0" fill="#000"/>
<circle cx="452.64" cy="394.71" r="2.0" fill="#000"/>
<circle cx="440.85" cy="397.44" r="2.0" fill="#000"/>
<circle cx="443.69" cy="397.79" r="2.0" fill="#000"/>
<circle cx="447.31" cy="398.37" r="2.0" fill="#000"/>
<circle cx="451.59" cy="398.03" r="2.0" fill="#000"/>
<circle cx="454.86" cy="398.78" r="2.0" fill="#000"/>
<circle cx="442.56" cy="401.63" r="2.0" fill="#000"/>
<circle cx="446.31" cy="400.54" r="2.0" fill="#000"/>
<circle cx="448.78" cy="400.51" r="2.0" fill="#000"/>
<circle cx="453.17" cy="401.43" r="2.0" fill="#000"/>
<circle cx="455.40" cy="401.46" r="2.0" fill="#000"/>
<circle cx="459.87" cy="401.22" r="2.0" fill="#000"/>
<circle cx="440.53" cy="404.47" r="2.0" fill="#000"/>
<circle cx="454.25" cy="403.94" r="2.0" fill="#000"/>
<circle cx="457.58" cy="403.23" r="2.0" fill="#000"/>
<circle cx="460.77" cy="403.46" r="2.0" fill="#000"/>
<circle cx="409.7" cy="392.5" r="2.0" fill="#000"/>
<circle cx="410.6" cy="390.2" r="2.0" fill="#000"/>
<circle cx="412.0" cy="387.6" r="2.0" fill="#000"/>
<circle cx="413.6" cy="385.0" r="2.0" fill="#000"/>
<circle cx="415.9" cy="387.5" r="2.0" fill="#000"/>
<circle cx="418.0" cy="386.9" r="2.0" fill="#000"/>
<circle cx="420.0" cy="386.9" r="2.0" fill="#000"/>
<circle cx="422.8" cy="389.7" r="2.0" fill="#000"/>
<circle cx="425.2" cy="387.7" r="2.0" fill="#000"/>
<circle cx="428.5" cy="383.6" r="2.0" fill="#000"/>
<circle cx="430.9" cy="386.9" r="2.0" fill="#000"/>
<circle cx="433.2" cy="386.5" r="2.0" fill="#000"/>
<circle cx="435.5" cy="385.7" r="2.0" fill="#000"/>
<circle cx="437.7" cy="388.5" r="2.0" fill="#000"/>
<circle cx="438.9" cy="395.0" r="2.0" fill="#000"/>
<circle cx="442.5" cy="396.2" r="2.0" fill="#000"/>
<circle cx="445.3" cy="392.9" r="2.0" fill="#000"/>
<circle cx="447.8" cy="394.6" r="2.0" fill="#000"/>
<circle cx="450.6" cy="389.7" r="2.0" fill="#000"/>
<circle cx="452.5" cy="393.3" r="2.0" fill="#000"/>
<circle cx="454.1" cy="396.2" r="2.0" fill="#000"/>
<circle cx="456.3" cy="399.0" r="2.0" fill="#000"/>
<circle cx="459.9" cy="398.2" r="2.0" fill="#000"/>
<circle cx="461.9" cy="400.6" r="2.0" fill="#000"/>
<circle cx="409.7" cy="395.2" r="2.0" fill="#000"/>
<circle cx="411.0" cy="397.0" r="2.0" fill="#000"/>
<circle cx="415.1" cy="397.2" r="2.0" fill="#000"/>
<circle cx="419.2" cy="395.4" r="2.0" fill="#000"/>
<circle cx="422.4" cy="395.4" r="2.0" fill="#000"/>
<circle cx="424.2" cy="393.8" r="2.0" fill="#000"/>
<circle cx="427.3" cy="391.4" r="2.0" fill="#000"/>
<circle cx="430.5" cy="393.0" r="2.0" fill="#000"/>
<circle cx="433.7" cy="393.4" r="2.0" fill="#000"/>
<circle cx="436.9" cy="393.4" r="2.0" fill="#000"/>
<circle cx="439.9" cy="396.5" r="2.0" fill="#000"/>
<circle cx="440.5" cy="400.0" r="2.0" fill="#000"/>
<circle cx="440.5" cy="404.0" r="2.0" fill="#000"/>
<circle cx="440.7" cy="407.5" r="2.0" fill="#000"/>
<circle cx="441.5" cy="406.0" r="2.0" fill="#000"/>
<circle cx="443.3" cy="403.5" r="2.0" fill="#000"/>
<circle cx="445.7" cy="401.1" r="2.0" fill="#000"/>
<circle cx="448.2" cy="402.7" r="2.0" fill="#000"/>
<circle cx="451.4" cy="403.1" r="2.0" fill="#000"/>
<circle cx="453.8" cy="402.7" r="2.0" fill="#000"/>
<circle cx="454.7" cy="405.5" r="2.0" fill="#000"/>
<circle cx="456.0" cy="407.5" r="2.0" fill="#000"/>
<circle cx="457.9" cy="404.3" r="2.0" fill="#000"/>
<circle cx="460.3" cy="405.1" r="2.0" fill="#000"/>
<circle cx="461.9" cy="404.3" r="2.0" fill="#000"/>
<circle cx="461.9" cy="401.0" r="2.0" fill="#000"/>
<circle cx="410.15" cy="391.41" r="2.0" fill="#000"/>
<circle cx="411.30" cy="389.34" r="2.0" fill="#000"/>
<circle cx="412.80" cy="386.64" r="2.0" fill="#000"/>
<circle cx="414.75" cy="385.89" r="2.0" fill="#000"/>
<circle cx="416.95" cy="386.82" r="2.0" fill="#000"/>
<circle cx="419.00" cy="386.84" r="2.0" fill="#000"/>
<circle cx="420.93" cy="387.41" r="2.0" fill="#000"/>
<circle cx="421.87" cy="388.51" r="2.0" fill="#000"/>
<circle cx="424.00" cy="388.27" r="2.0" fill="#000"/>
<circle cx="426.02" cy="386.84" r="2.0" fill="#000"/>
<circle cx="426.85" cy="385.93" r="2.0" fill="#000"/>
<circle cx="427.68" cy="385.02" r="2.0" fill="#000"/>
<circle cx="429.30" cy="384.35" r="2.0" fill="#000"/>
<circle cx="430.10" cy="386.02" r="2.0" fill="#000"/>
<circle cx="432.05" cy="386.86" r="2.0" fill="#000"/>
<circle cx="434.35" cy="385.74" r="2.0" fill="#000"/>
<circle cx="436.23" cy="387.02" r="2.0" fill="#000"/>
<circle cx="436.97" cy="388.03" r="2.0" fill="#000"/>
<circle cx="438.00" cy="389.84" r="2.0" fill="#000"/>
<circle cx="438.30" cy="392.20" r="2.0" fill="#000"/>
<circle cx="438.60" cy="393.27" r="2.0" fill="#000"/>
<circle cx="440.10" cy="395.39" r="2.0" fill="#000"/>
<circle cx="441.30" cy="396.29" r="2.0" fill="#000"/>
<circle cx="443.43" cy="395.43" r="2.0" fill="#000"/>
<circle cx="444.37" cy="393.66" r="2.0" fill="#000"/>
<circle cx="446.55" cy="393.68" r="2.0" fill="#000"/>
<circle cx="448.50" cy="393.39" r="2.0" fill="#000"/>
<circle cx="449.20" cy="391.99" r="2.0" fill="#000"/>
<circle cx="449.90" cy="390.62" r="2.0" fill="#000"/>
<circle cx="451.23" cy="390.72" r="2.0" fill="#000"/>
<circle cx="451.87" cy="392.32" r="2.0" fill="#000"/>
<circle cx="453.30" cy="394.27" r="2.0" fill="#000"/>
<circle cx="454.83" cy="397.19" r="2.0" fill="#000"/>
<circle cx="455.57" cy="398.01" r="2.0" fill="#000"/>
<circle cx="457.50" cy="398.25" r="2.0" fill="#000"/>
<circle cx="458.70" cy="398.30" r="2.0" fill="#000"/>
<circle cx="460.90" cy="399.52" r="2.0" fill="#000"/>
<circle cx="410.35" cy="396.11" r="2.0" fill="#000"/>
<circle cx="412.37" cy="396.63" r="2.0" fill="#000"/>
<circle cx="413.73" cy="397.62" r="2.0" fill="#000"/>
<circle cx="416.47" cy="396.89" r="2.0" fill="#000"/>
<circle cx="417.83" cy="396.47" r="2.0" fill="#000"/>
<circle cx="420.80" cy="395.00" r="2.0" fill="#000"/>
<circle cx="423.30" cy="394.37" r="2.0" fill="#000"/>
<circle cx="425.23" cy="392.54" r="2.0" fill="#000"/>
<circle cx="426.27" cy="392.48" r="2.0" fill="#000"/>
<circle cx="428.37" cy="391.70" r="2.0" fill="#000"/>
<circle cx="429.43" cy="392.10" r="2.0" fill="#000"/>
<circle cx="432.10" cy="393.12" r="2.0" fill="#000"/>
<circle cx="435.30" cy="393.81" r="2.0" fill="#000"/>
<circle cx="437.90" cy="394.75" r="2.0" fill="#000"/>
<circle cx="438.90" cy="395.23" r="2.0" fill="#000"/>
<circle cx="440.10" cy="397.32" r="2.0" fill="#000"/>
<circle cx="440.30" cy="399.25" r="2.0" fill="#000"/>
<circle cx="440.50" cy="401.40" r="2.0" fill="#000"/>
<circle cx="440.50" cy="402.87" r="2.0" fill="#000"/>
<circle cx="440.57" cy="404.76" r="2.0" fill="#000"/>
<circle cx="440.63" cy="405.89" r="2.0" fill="#000"/>
<circle cx="441.10" cy="406.94" r="2.0" fill="#000"/>
<circle cx="442.40" cy="404.68" r="2.0" fill="#000"/>
<circle cx="444.50" cy="401.87" r="2.0" fill="#000"/>
<circle cx="446.95" cy="402.34" r="2.0" fill="#000"/>
<circle cx="449.80" cy="403.03" r="2.0" fill="#000"/>
<circle cx="452.60" cy="403.20" r="2.0" fill="#000"/>
<circle cx="454.25" cy="403.68" r="2.0" fill="#000"/>
<circle cx="455.35" cy="406.86" r="2.0" fill="#000"/>
<circle cx="456.63" cy="406.00" r="2.0" fill="#000"/>
<circle cx="457.27" cy="405.73" r="2.0" fill="#000"/>
<circle cx="459.10" cy="404.65" r="2.0" fill="#000"/>
<circle cx="461.10" cy="404.54" r="2.0" fill="#000"/>
<circle cx="461.90" cy="402.70" r="2.0" fill="#000"/>
<circle cx="425" cy="399.2" r="1.9" fill="#000"/>
<circle cx="476.6" cy="385.7" r="2.0" fill="#0000ff"/>
<circle cx="489.1" cy="394.1" r="2.0" fill="#0000ff"/>
<circle cx="501.9" cy="393.4" r="2.0" fill="#0000ff"/>
<circle cx="514.5" cy="393.4" r="2.0" fill="#0000ff"/>
<circle cx="527.2" cy="386" r="2.0" fill="#0000ff"/>
<circle cx="532.1" cy="388.1" r="2.0" fill="#0000ff"/>
<path d="M545.4 385.6 L547.8 386.3 L550.4 388.0" fill="none" stroke="#00a0dc" stroke-width="3.6" stroke-linecap="round" stroke-linejoin="round"/>
<circle cx="545.4" cy="385.6" r="2.15" fill="#00a0dc"/>
<circle cx="547.8" cy="386.3" r="2.15" fill="#00a0dc"/>
<circle cx="550.4" cy="388.0" r="2.15" fill="#00a0dc"/>
<path d="M552.5 382.6 L554.1 384.5 L555.8 386.8 L557.4 388.4 L558.9 387.2 L560.4 385.8 L561.7 387.8 L563.4 385.8 L564.6 388.1 L565.8 386.5" fill="none" stroke="#00a0dc" stroke-width="3.6" stroke-linecap="round" stroke-linejoin="round"/>
<circle cx="552.5" cy="382.6" r="2.15" fill="#00a0dc"/>
<circle cx="554.1" cy="384.5" r="2.15" fill="#00a0dc"/>
<circle cx="555.8" cy="386.8" r="2.15" fill="#00a0dc"/>
<circle cx="557.4" cy="388.4" r="2.15" fill="#00a0dc"/>
<circle cx="558.9" cy="387.2" r="2.15" fill="#00a0dc"/>
<circle cx="560.4" cy="385.8" r="2.15" fill="#00a0dc"/>
<circle cx="561.7" cy="387.8" r="2.15" fill="#00a0dc"/>
<circle cx="563.4" cy="385.8" r="2.15" fill="#00a0dc"/>
<circle cx="564.6" cy="388.1" r="2.15" fill="#00a0dc"/>
<circle cx="565.8" cy="386.5" r="2.15" fill="#00a0dc"/>
<path d="M566.8 395.7 L568.6 395.2 L570.6 396.2 L572.6 396.0 L574.4 396.2 L576.6 397.2 L578.6 397.5 L580.6 398.2 L582.6 398.8 L584.5 398.3 L586.4 397.3 L588.3 398.0 L590.2 398.2 L592.2 398.6 L594.0 399.6 L596.0 400.4 L598.0 401.0 L600.0 400.9 L602.0 400.2" fill="none" stroke="#00a0dc" stroke-width="3.6" stroke-linecap="round" stroke-linejoin="round"/>
<circle cx="566.8" cy="395.7" r="2.15" fill="#00a0dc"/>
<circle cx="568.6" cy="395.2" r="2.15" fill="#00a0dc"/>
<circle cx="570.6" cy="396.2" r="2.15" fill="#00a0dc"/>
<circle cx="572.6" cy="396.0" r="2.15" fill="#00a0dc"/>
<circle cx="574.4" cy="396.2" r="2.15" fill="#00a0dc"/>
<circle cx="576.6" cy="397.2" r="2.15" fill="#00a0dc"/>
<circle cx="578.6" cy="397.5" r="2.15" fill="#00a0dc"/>
<circle cx="580.6" cy="398.2" r="2.15" fill="#00a0dc"/>
<circle cx="582.6" cy="398.8" r="2.15" fill="#00a0dc"/>
<circle cx="584.5" cy="398.3" r="2.15" fill="#00a0dc"/>
<circle cx="586.4" cy="397.3" r="2.15" fill="#00a0dc"/>
<circle cx="588.3" cy="398.0" r="2.15" fill="#00a0dc"/>
<circle cx="590.2" cy="398.2" r="2.15" fill="#00a0dc"/>
<circle cx="592.2" cy="398.6" r="2.15" fill="#00a0dc"/>
<circle cx="594.0" cy="399.6" r="2.15" fill="#00a0dc"/>
<circle cx="596.0" cy="400.4" r="2.15" fill="#00a0dc"/>
<circle cx="598.0" cy="401.0" r="2.15" fill="#00a0dc"/>
<circle cx="600.0" cy="400.9" r="2.15" fill="#00a0dc"/>
<circle cx="602.0" cy="400.2" r="2.15" fill="#00a0dc"/>
<path d="M616.1 394.0 L618.4 391.7 L621.4 391.1 L624.3 390.3 L627.8 392.3 L631.9 391.7 L635.4 392.8 L638.9 394.2 L642.4 394.6 L645.9 395.0 L648.8 395.8 L651.7 394.6 L655.2 394.6 L658.5 396.1 L661.1 393.4 L664.6 393.8 L668.1 394.0 L671.6 394.6" fill="none" stroke="#000" stroke-width="3.8" stroke-linecap="round" stroke-linejoin="round"/>
<circle cx="616.10" cy="394.15" r="2.25" fill="#000"/>
<circle cx="617.25" cy="393.14" r="2.25" fill="#000"/>
<circle cx="618.40" cy="392.05" r="2.25" fill="#000"/>
<circle cx="621.40" cy="391.63" r="2.25" fill="#000"/>
<circle cx="624.30" cy="390.59" r="2.25" fill="#000"/>
<circle cx="626.05" cy="391.81" r="2.25" fill="#000"/>
<circle cx="627.80" cy="391.73" r="2.25" fill="#000"/>
<circle cx="629.85" cy="391.96" r="2.25" fill="#000"/>
<circle cx="631.90" cy="392.23" r="2.25" fill="#000"/>
<circle cx="633.65" cy="392.43" r="2.25" fill="#000"/>
<circle cx="635.40" cy="393.28" r="2.25" fill="#000"/>
<circle cx="637.15" cy="393.04" r="2.25" fill="#000"/>
<circle cx="638.90" cy="394.16" r="2.25" fill="#000"/>
<circle cx="640.65" cy="394.10" r="2.25" fill="#000"/>
<circle cx="642.40" cy="394.65" r="2.25" fill="#000"/>
<circle cx="644.15" cy="394.89" r="2.25" fill="#000"/>
<circle cx="645.90" cy="394.42" r="2.25" fill="#000"/>
<circle cx="648.80" cy="395.46" r="2.25" fill="#000"/>
<circle cx="651.70" cy="394.34" r="2.25" fill="#000"/>
<circle cx="653.45" cy="395.10" r="2.25" fill="#000"/>
<circle cx="655.20" cy="394.92" r="2.25" fill="#000"/>
<circle cx="656.85" cy="394.94" r="2.25" fill="#000"/>
<circle cx="658.50" cy="396.46" r="2.25" fill="#000"/>
<circle cx="659.80" cy="394.32" r="2.25" fill="#000"/>
<circle cx="661.10" cy="393.54" r="2.25" fill="#000"/>
<circle cx="662.85" cy="393.15" r="2.25" fill="#000"/>
<circle cx="664.60" cy="393.20" r="2.25" fill="#000"/>
<circle cx="666.35" cy="394.35" r="2.25" fill="#000"/>
<circle cx="668.10" cy="393.65" r="2.25" fill="#000"/>
<circle cx="669.85" cy="393.96" r="2.25" fill="#000"/>
<circle cx="671.60" cy="394.60" r="2.25" fill="#000"/>
</svg></body></html>
